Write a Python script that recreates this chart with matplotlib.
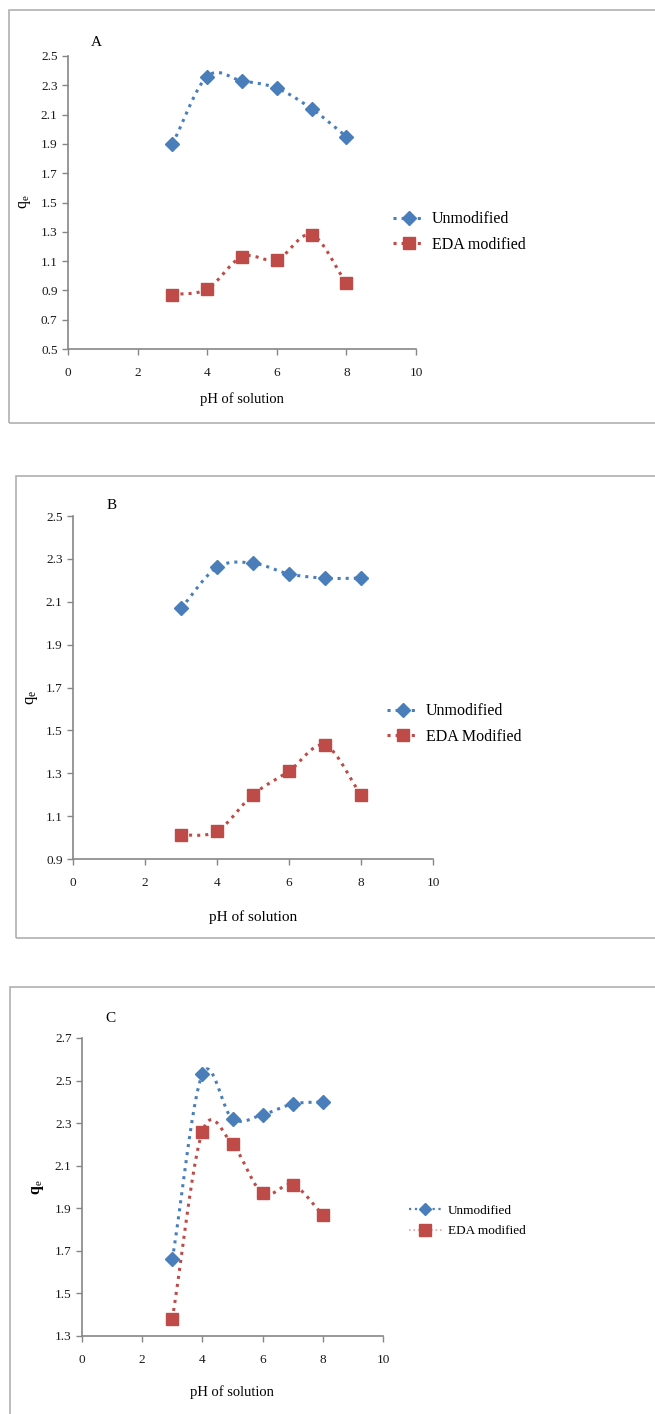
import numpy as np
import matplotlib
matplotlib.use("Agg")
import matplotlib.pyplot as plt
from matplotlib.patches import Rectangle
from matplotlib.lines import Line2D

plt.rcParams['font.family'] = ['Liberation Serif', 'DejaVu Serif']
plt.rcParams['mathtext.fontset'] = 'custom'
plt.rcParams['mathtext.rm'] = 'Liberation Serif'
plt.rcParams['mathtext.it'] = 'Liberation Serif'
plt.rcParams['mathtext.bf'] = 'Liberation Serif:bold'

# data
ph = [3, 4, 5, 6, 7, 8]
unmod_A = [1.90, 2.36, 2.33, 2.28, 2.14, 1.95]
eda_A = [0.87, 0.91, 1.13, 1.11, 1.28, 0.95]
unmod_B = [2.07, 2.26, 2.28, 2.23, 2.21, 2.21]
eda_B = [1.01, 1.03, 1.20, 1.31, 1.43, 1.20]
unmod_C = [1.66, 2.53, 2.32, 2.34, 2.39, 2.40]
eda_C = [1.38, 2.26, 2.20, 1.97, 2.01, 1.87]

W, H = 655, 1414
fig = plt.figure(figsize=(W / 100, H / 100), dpi=100)

BLUE = '#4A7EBB'
RED = '#BE4B48'
GREY = '#868686'


def fx(px):
    return px / W


def fy(py):
    return 1 - py / H


def smooth(x, y, n=24):
    # Catmull-Rom path through the points, like a spreadsheet "smoothed line"
    x = np.asarray(x, float)
    y = np.asarray(y, float)
    px = np.concatenate([[2 * x[0] - x[1]], x, [2 * x[-1] - x[-2]]])
    py = np.concatenate([[2 * y[0] - y[1]], y, [2 * y[-1] - y[-2]]])
    t = np.linspace(0, 1, n)
    xs, ys = [], []
    for i in range(1, len(px) - 2):
        for P, out in ((px, xs), (py, ys)):
            p0, p1, p2, p3 = P[i - 1], P[i], P[i + 1], P[i + 2]
            out.extend(0.5 * (2 * p1 + (-p0 + p2) * t
                              + (2 * p0 - 5 * p1 + 4 * p2 - p3) * t ** 2
                              + (-p0 + 3 * p1 - 3 * p2 + p3) * t ** 3))
    return xs, ys


def panel(box, frame, u, e, ylim, yticks, letter, letter_xy, ylab_xy, xlab_xy,
          leg_xy, labels, tick_fs, lab_fs, leg_fs, ybold=False, light_leg=False,
          hlen=2.0):
    l, t, r, b = box
    fig.patches.append(Rectangle((fx(frame[0]), fy(frame[3])),
                                 fx(frame[2] - frame[0]), (frame[3] - frame[1]) / H,
                                 transform=fig.transFigure, fill=False,
                                 edgecolor='#B0B0B0', lw=1.2))
    ax = fig.add_axes([fx(l), fy(b), fx(r - l), (b - t) / H])
    xs, ys = smooth(ph, u)
    ax.plot(xs, ys, ':', color=BLUE, lw=2.2)
    ax.plot(ph, u, 'D', color=BLUE, ms=7)
    xs, ys = smooth(ph, e)
    ax.plot(xs, ys, ':', color=RED, lw=2.2)
    ax.plot(ph, e, 's', color=RED, ms=8.5)
    ax.set_xlim(0, 10)
    ax.set_ylim(*ylim)
    ax.set_xticks(range(0, 11, 2))
    ax.set_yticks(yticks)
    ax.set_yticklabels(['%.1f' % v for v in yticks])
    for s in ('top', 'right'):
        ax.spines[s].set_visible(False)
    for s in ('left', 'bottom'):
        ax.spines[s].set_color(GREY)
        ax.spines[s].set_linewidth(1.2)
    ax.tick_params(direction='out', length=4, width=1, color=GREY,
                   labelsize=tick_fs, labelcolor='#1a1a1a')
    ax.tick_params(axis='x', pad=9)
    ax.patch.set_alpha(0)
    fig.text(fx(letter_xy[0]), fy(letter_xy[1]), letter, fontsize=11,
             ha='center', va='center')
    fig.text(fx(ylab_xy[0]), fy(ylab_xy[1]), r'q$_e$', fontsize=lab_fs + 1,
             rotation=90, ha='center', va='center',
             fontweight='bold' if ybold else 'normal')
    fig.text(fx(xlab_xy[0]), fy(xlab_xy[1]), 'pH of solution', fontsize=lab_fs,
             ha='center', va='center')
    if light_leg:
        h1 = Line2D([], [], ls=':', color=BLUE, lw=1.6, marker='D', ms=6)
        h2 = Line2D([], [], ls=':', color='#E8A6A4', lw=1.2, marker='s', ms=8.5,
                    mfc=RED, mec=RED)
    else:
        h1 = Line2D([], [], ls=':', color=BLUE, lw=2.2, marker='D', ms=7)
        h2 = Line2D([], [], ls=':', color=RED, lw=2.2, marker='s', ms=8.5)
    fig.legend([h1, h2], labels, loc='center left',
               bbox_to_anchor=(fx(leg_xy[0]), fy(leg_xy[1])),
               frameon=False, fontsize=leg_fs, handlelength=hlen,
               handletextpad=0.45, labelspacing=0.6, borderpad=0,
               borderaxespad=0)
    return ax


panel((68, 56, 416, 349), (9, 10, 700, 423), unmod_A, eda_A, (0.5, 2.5),
      np.arange(0.5, 2.51, 0.2), 'A', (96, 42), (25, 202), (242, 399),
      (393, 232), ['Unmodified', 'EDA modified'], 9.5, 10.5, 11.5)

panel((73, 516, 433, 859), (16, 476, 700, 938), unmod_B, eda_B, (0.9, 2.5),
      np.arange(0.9, 2.51, 0.2), 'B', (112, 505), (32, 697), (253, 917),
      (387, 724), ['Unmodified', 'EDA Modified'], 9.5, 11, 11.5)

panel((82, 1038, 383, 1336), (10, 987, 700, 1450), unmod_C, eda_C, (1.3, 2.7),
      np.arange(1.3, 2.71, 0.2), 'C', (110, 1019), (38, 1187), (232, 1392),
      (409, 1221), ['Unmodified', 'EDA modified'], 9.5, 10.5, 9.5,
      ybold=True, light_leg=True, hlen=2.5)

fig.savefig('out.png', dpi=100, facecolor='white')
